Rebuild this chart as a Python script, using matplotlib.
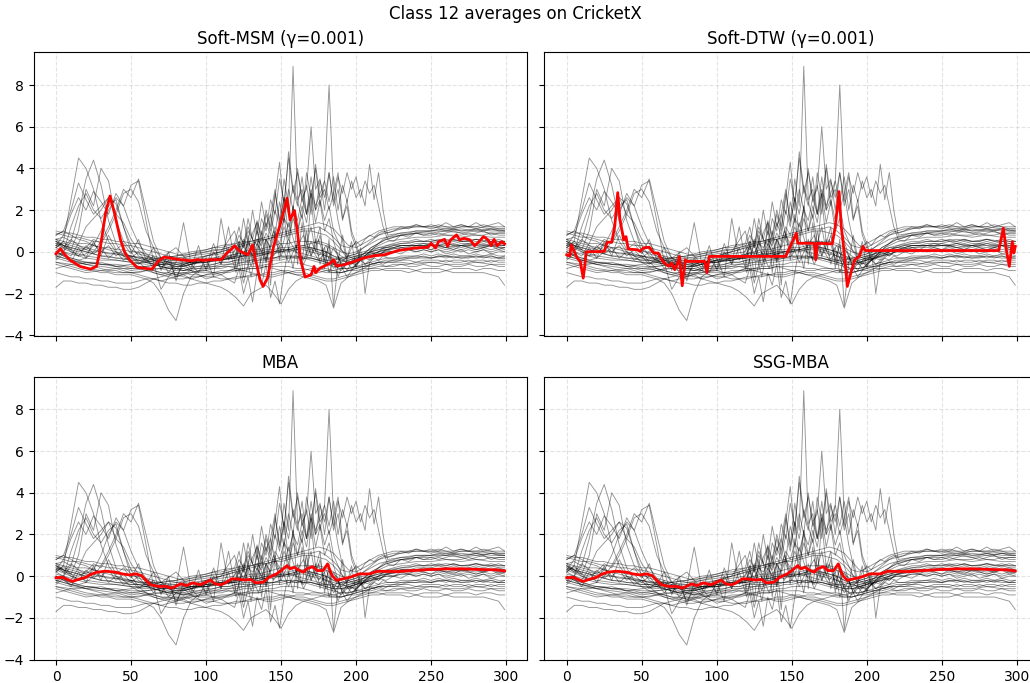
import numpy as np
from matplotlib import pyplot as plt

# time index for the smooth background series (every 5 steps + last point)
t_coarse = list(range(0, 300, 5)) + [299]
# finer index for the series with bursts in the 120-220 region
t_burst = list(range(0, 120, 10)) + list(range(119, 224, 3)) + list(range(230, 300, 10)) + [299]

# class 12 training series (coarse)
a1 = [0.9, 0.8, 0.7, 0.7, 0.6, 0.5, 0.5, 0.4, 0.4, 0.3,
      0.3, 0.2, 0.1, 0.0, -0.1, -0.2, -0.3, -0.3, -0.2, -0.1,
      0.0, 0.1, 0.1, 0.2, 0.3, 0.4, 0.5, 0.6, 0.6, 0.7,
      0.8, 0.9, 1.0, 1.1, 1.1, 1.2, 1.0, 0.7, 0.3, 0.2,
      0.4, 0.6, 0.8, 1.0, 1.1, 1.2, 1.2, 1.2, 1.3, 1.2,
      1.2, 1.3, 1.2, 1.2, 1.3, 1.2, 1.2, 1.3, 1.2, 1.2, 1.2]
a2 = [0.6, 0.7, 0.5, 0.4, 0.4, 0.3, 0.2, 0.2, 0.1, 0.1,
      0.0, 0.0, -0.1, -0.2, -0.3, -0.4, -0.4, -0.5, -0.4, -0.3,
      -0.2, -0.1, 0.0, 0.1, 0.2, 0.3, 0.4, 0.5, 0.6, 0.7,
      0.7, 0.8, 0.9, 1.0, 1.0, 0.9, 0.8, 0.5, 0.1, -0.2,
      -0.1, 0.2, 0.5, 0.8, 1.0, 1.1, 1.1, 1.2, 1.2, 1.2,
      1.1, 1.2, 1.2, 1.1, 1.2, 1.2, 1.1, 1.2, 1.2, 1.1, 1.1]
a3 = [1.0, 0.9, 0.9, 0.8, 0.7, 0.7, 0.6, 0.6, 0.5, 0.5,
      0.4, 0.4, 0.3, 0.2, 0.1, 0.0, -0.1, -0.2, -0.1, 0.0,
      0.1, 0.2, 0.2, 0.3, 0.4, 0.5, 0.5, 0.6, 0.7, 0.8,
      0.9, 1.0, 1.1, 1.2, 1.3, 1.4, 1.3, 1.1, 0.7, 0.3,
      0.2, 0.4, 0.6, 0.8, 0.9, 1.0, 1.2, 1.1, 1.3, 1.2,
      1.3, 1.2, 1.4, 1.2, 1.3, 1.2, 1.4, 1.2, 1.3, 1.4, 1.2]
a4 = [0.3, 0.4, 0.3, 0.2, 0.1, 0.0, 0.0, -0.1, -0.1, -0.2,
      -0.2, -0.3, -0.4, -0.5, -0.6, -0.6, -0.7, -0.7, -0.6, -0.5,
      -0.4, -0.3, -0.3, -0.2, -0.1, 0.0, 0.1, 0.1, 0.2, 0.3,
      0.4, 0.4, 0.5, 0.5, 0.5, 0.4, 0.3, 0.1, -0.2, -0.4,
      -0.3, -0.1, 0.2, 0.4, 0.6, 0.7, 0.8, 0.8, 0.9, 0.8,
      0.8, 0.9, 0.8, 0.8, 0.8, 0.9, 0.8, 0.8, 0.9, 0.8, 0.8]
a5 = [0.5, 0.3, 0.2, 0.1, 0.0, -0.1, -0.2, -0.2, -0.3, -0.3,
      -0.4, -0.4, -0.5, -0.6, -0.7, -0.8, -0.8, -0.9, -0.8, -0.7,
      -0.7, -0.6, -0.5, -0.5, -0.4, -0.3, -0.3, -0.2, -0.1, 0.0,
      0.0, 0.1, 0.1, 0.2, 0.2, 0.1, 0.0, -0.2, -0.4, -0.5,
      -0.4, -0.2, 0.0, 0.2, 0.3, 0.4, 0.5, 0.5, 0.6, 0.5,
      0.6, 0.5, 0.5, 0.6, 0.5, 0.5, 0.6, 0.5, 0.5, 0.6, 0.5]
a6 = [0.8, 1.0, 0.8, 0.6, 0.5, 0.3, 0.2, 0.1, 0.0, -0.1,
      -0.2, -0.3, -0.3, -0.4, -0.5, -0.5, -0.6, -0.6, -0.5, -0.5,
      -0.4, -0.4, -0.3, -0.3, -0.2, -0.2, -0.1, -0.1, 0.0, 0.0,
      0.1, 0.1, 0.2, 0.2, 0.1, 0.0, -0.2, -0.4, -0.6, -0.6,
      -0.5, -0.3, -0.1, 0.0, 0.1, 0.2, 0.3, 0.3, 0.3, 0.4,
      0.3, 0.3, 0.4, 0.3, 0.3, 0.4, 0.3, 0.3, 0.4, 0.3, 0.3]
b1 = [0.2, 0.5, 2.5, 4.5, 4.0, 3.0, 1.5, 0.5, 0.0, -0.2,
      -0.3, -0.4, -0.5, -0.6, -0.7, -0.8, -0.9, -0.9, -0.8, -0.8,
      -0.7, -0.7, -0.6, -0.6, -0.5, -0.5, -0.4, -0.4, -0.3, -0.3,
      -0.2, -0.3, -0.2, -0.3, -0.4, -0.5, -0.6, -0.7, -0.8, -0.8,
      -0.7, -0.6, -0.5, -0.4, -0.3, -0.3, -0.2, -0.2, -0.2, -0.1,
      -0.2, -0.1, -0.2, -0.1, -0.2, -0.2, -0.1, -0.2, -0.1, -0.2, -0.2]
b2 = [-0.2, 0.0, 0.5, 1.8, 3.5, 4.4, 3.2, 1.5, 0.4, -0.2,
      -0.5, -0.7, -0.8, -0.9, -1.0, -1.0, -1.1, -1.0, -1.0, -0.9,
      -0.9, -0.8, -0.8, -0.7, -0.7, -0.6, -0.6, -0.5, -0.5, -0.4,
      -0.4, -0.3, -0.3, -0.2, -0.3, -0.4, -0.5, -0.6, -0.6, -0.5,
      -0.4, -0.3, -0.2, -0.1, 0.0, 0.0, 0.1, 0.1, 0.1, 0.2,
      0.1, 0.2, 0.1, 0.2, 0.1, 0.2, 0.1, 0.2, 0.1, 0.2, 0.1]
b3 = [0.4, 0.2, 0.1, 1.0, 3.0, 2.2, 4.0, 3.4, 1.5, 0.5,
      0.1, -0.1, -0.2, -0.3, -0.4, -0.5, -0.5, -0.6, -0.5, -0.5,
      -0.4, -0.4, -0.3, -0.3, -0.2, -0.2, -0.1, -0.1, 0.0, 0.0,
      0.1, 0.1, 0.0, -0.1, -0.2, -0.3, -0.4, -0.5, -0.5, -0.4,
      -0.3, -0.2, -0.1, 0.0, 0.1, 0.2, 0.3, 0.3, 0.4, 0.4,
      0.4, 0.5, 0.4, 0.5, 0.4, 0.4, 0.5, 0.4, 0.5, 0.4, 0.4]
b4 = [0.0, -0.2, -0.3, -0.4, -0.3, 0.0, 0.5, 1.2, 2.0, 3.0,
      2.6, 3.5, 2.0, 0.5, -0.3, -0.6, -0.8, -0.9, -0.9, -1.0,
      -1.0, -1.0, -0.9, -0.9, -0.8, -0.8, -0.7, -0.7, -0.6, -0.6,
      -0.5, -0.5, -0.5, -0.6, -0.7, -0.8, -0.9, -1.0, -1.0, -0.9,
      -0.8, -0.7, -0.6, -0.5, -0.5, -0.4, -0.4, -0.3, -0.3, -0.3,
      -0.3, -0.2, -0.3, -0.2, -0.3, -0.3, -0.2, -0.3, -0.2, -0.3, -0.3]
b5 = [0.6, 0.3, 0.0, -0.2, -0.1, 0.3, 1.0, 2.0, 2.6, 2.2,
      3.2, 3.4, 1.5, -0.5, -1.8, -1.2, -0.8, -0.6, -0.5, -0.4,
      -0.3, -0.3, -0.2, -0.2, -0.1, -0.1, 0.0, 0.0, 0.1, 0.1,
      0.2, 0.2, 0.3, 0.3, 0.2, 0.1, 0.0, -0.2, -0.3, -0.3,
      -0.2, -0.1, 0.0, 0.1, 0.2, 0.2, 0.3, 0.3, 0.3, 0.3,
      0.3, 0.3, 0.2, 0.3, 0.2, 0.3, 0.3, 0.2, 0.3, 0.2, 0.2]
b6 = [-0.3, 0.0, 1.2, 2.2, 2.8, 2.0, 1.6, 2.2, 2.5, 1.2,
      0.0, -0.5, -0.8, -1.0, -1.1, -1.2, -1.3, -1.3, -1.2, -1.2,
      -1.1, -1.1, -1.0, -1.0, -0.9, -0.9, -0.8, -0.8, -0.7, -0.7,
      -0.7, -0.7, -0.8, -0.8, -0.9, -0.9, -1.0, -1.0, -1.0, -0.9,
      -0.9, -0.8, -0.8, -0.7, -0.7, -0.6, -0.6, -0.6, -0.5, -0.5,
      -0.5, -0.5, -0.4, -0.5, -0.5, -0.4, -0.5, -0.5, -0.4, -0.5, -0.5]
b7 = [0.8, 1.0, 2.0, 3.3, 2.5, 1.8, 2.2, 2.6, 1.8, 1.4,
      0.6, 0.1, -0.2, -0.4, -0.5, -0.6, -0.7, -0.7, -0.6, -0.5,
      -0.5, -0.4, -0.4, -0.3, -0.3, -0.2, -0.2, -0.1, -0.1, 0.0,
      0.0, 0.1, 0.2, 0.3, 0.4, 0.5, 0.4, 0.2, 0.0, -0.1,
      0.0, 0.2, 0.4, 0.6, 0.7, 0.8, 0.9, 0.9, 1.0, 1.0,
      1.0, 1.1, 1.0, 1.1, 1.0, 1.0, 1.1, 1.0, 1.1, 1.0, 1.0]
b8 = [0.2, 0.0, -0.2, 0.4, 1.2, 1.6, 2.0, 2.6, 2.3, 1.2,
      0.3, -0.2, -0.4, -0.6, -0.7, -0.8, -0.8, -0.8, -0.7, -0.7,
      -0.6, -0.6, -0.5, -0.5, -0.4, -0.4, -0.4, -0.3, -0.3, -0.3,
      -0.2, -0.2, -0.3, -0.3, -0.3, -0.4, -0.4, -0.4, -0.3, -0.2,
      -0.1, 0.0, 0.1, 0.2, 0.2, 0.3, 0.3, 0.3, 0.3, 0.3,
      0.4, 0.3, 0.3, 0.4, 0.3, 0.3, 0.4, 0.3, 0.3, 0.4, 0.3]
b9 = [0.3, 0.8, 1.8, 2.6, 2.0, 2.9, 2.4, 1.8, 2.8, 2.2,
      1.2, 0.4, -0.1, -0.4, -0.6, -0.7, -0.8, -0.8, -0.9, -0.8,
      -0.8, -0.7, -0.7, -0.6, -0.6, -0.5, -0.5, -0.4, -0.4, -0.3,
      -0.3, -0.2, -0.2, -0.3, -0.3, -0.4, -0.5, -0.6, -0.6, -0.5,
      -0.4, -0.3, -0.2, -0.1, 0.0, 0.0, 0.1, 0.1, 0.0, 0.1,
      0.0, 0.1, 0.0, 0.1, 0.0, 0.1, 0.0, 0.1, 0.0, 0.1, 0.0]
b10 = [0.5, 0.3, 0.1, 0.0, 0.2, 0.6, 0.4, 1.0, 1.8, 2.8,
       3.0, 2.4, 1.0, 0.2, -0.3, -0.5, -0.6, -0.7, -0.6, -0.5,
       -0.5, -0.4, -0.4, -0.3, -0.3, -0.2, -0.2, -0.2, -0.1, -0.1,
       0.0, 0.0, 0.1, 0.1, 0.0, -0.1, -0.2, -0.3, -0.4, -0.3,
       -0.2, -0.1, 0.0, 0.1, 0.2, 0.3, 0.4, 0.4, 0.5, 0.5,
       0.5, 0.6, 0.5, 0.6, 0.5, 0.5, 0.6, 0.5, 0.6, 0.5, 0.5]
d1 = [-1.7, -1.4, -1.4, -1.5, -1.5, -1.6, -1.6, -1.7, -1.7, -1.8,
      -1.8, -1.7, -1.5, -1.3, -1.2, -1.1, -1.0, -1.0, -1.1, -1.1,
      -1.2, -1.2, -1.3, -1.3, -1.2, -1.2, -1.1, -1.1, -1.0, -1.0,
      -0.9, -0.9, -1.0, -1.0, -1.1, -1.2, -1.3, -1.3, -1.2, -1.1,
      -1.0, -0.9, -0.8, -0.8, -0.9, -0.9, -0.9, -1.0, -0.9, -1.0,
      -1.0, -1.0, -0.9, -1.0, -1.0, -1.0, -1.0, -1.0, -1.1, -1.2, -1.6]
d2 = [-1.0, -1.1, -1.2, -1.2, -1.3, -1.3, -1.4, -1.4, -1.5, -1.5,
      -1.5, -1.4, -1.3, -1.3, -1.4, -1.5, -1.5, -1.6, -1.6, -1.5,
      -1.5, -1.4, -1.4, -1.3, -1.3, -1.2, -1.2, -1.1, -1.1, -1.1,
      -1.0, -1.0, -1.1, -1.1, -1.2, -1.3, -1.4, -1.4, -1.3, -1.2,
      -1.1, -1.0, -0.9, -0.9, -0.8, -0.8, -0.8, -0.8, -0.9, -0.8,
      -0.8, -0.8, -0.9, -0.8, -0.8, -0.8, -0.9, -0.8, -0.8, -0.9, -0.9]
d3 = [-0.5, -0.6, -0.7, -0.8, -0.9, -0.9, -1.0, -1.0, -1.1, -1.1,
      -1.1, -1.2, -1.3, -1.5, -2.0, -2.8, -3.3, -2.0, -1.2, -0.9,
      -0.8, -0.8, -0.7, -0.7, -0.8, -0.9, -1.0, -1.1, -1.2, -1.2,
      -1.1, -1.0, -0.9, -0.9, -0.8, -0.8, -0.8, -0.9, -1.0, -0.9,
      -0.8, -0.7, -0.6, -0.5, -0.5, -0.5, -0.4, -0.4, -0.5, -0.4,
      -0.4, -0.4, -0.5, -0.4, -0.4, -0.5, -0.4, -0.4, -0.5, -0.4, -0.4]
d4 = [0.0, -0.2, -0.4, -0.5, -0.6, -0.7, -0.8, -0.9, -0.9, -1.0,
      -1.0, -1.0, -0.9, -0.8, -0.8, -0.9, -1.0, -1.1, -1.3, -1.4,
      -1.5, -1.6, -1.7, -1.9, -2.2, -2.6, -2.0, -1.8, -1.6, -2.0,
      -2.5, -1.8, -1.4, -1.2, -1.1, -1.0, -0.9, -0.9, -0.8, -0.8,
      -0.7, -0.7, -0.7, -0.6, -0.7, -0.7, -0.6, -0.7, -0.7, -0.6,
      -0.7, -0.7, -0.6, -0.7, -0.7, -0.6, -0.7, -0.7, -0.6, -0.7, -0.7]
d5 = [-0.8, -0.7, -0.6, -0.6, -0.5, -0.5, -0.6, -0.6, -0.7, -0.7,
      -0.8, -0.8, -0.9, -1.0, -1.1, -1.0, -1.1, -1.2, -1.3, -1.2,
      -1.1, -1.0, -1.0, -0.9, -0.9, -0.8, -0.8, -0.8, -0.7, -0.8,
      -0.9, -1.0, -1.1, -1.2, -1.3, -1.4, -1.6, -2.7, -1.5, -1.2,
      -1.0, -0.8, -0.6, -0.5, -0.4, -0.4, -0.3, -0.3, -0.3, -0.2,
      -0.3, -0.2, -0.2, -0.3, -0.2, -0.2, -0.3, -0.2, -0.2, -0.3, -0.2]
e1 = [0.2, 0.5, 0.1, -0.2, 0.3, -0.1, 0.2, -0.3, 0.0, -0.4,
      -0.2, -0.6, -0.3, -0.8, -0.4, -1.0, -0.5, 1.4, -0.6, -1.0,
      -0.3, -1.2, 1.6, -0.4, 0.2, -1.5, 0.0, -0.8, 0.6, -0.2,
      0.4, -0.5, 0.3, -0.6, 0.2, -0.4, 0.0, -0.8, -0.3, -0.6,
      -0.2, -0.4, 0.0, -0.2, 0.1, 0.0, 0.2, 0.1, 0.3, 0.2,
      0.1, 0.3, 0.2, 0.1, 0.3, 0.2, 0.1, 0.2, 0.3, 0.1, 0.2]
e2 = [0.5, 0.2, 0.6, 0.3, 0.1, 0.4, 0.0, 0.3, -0.2, 0.1,
      -0.3, 0.0, -0.5, -0.2, -0.8, -0.4, -1.2, -0.6, -0.9, -0.3,
      -0.8, 0.4, -0.6, 0.2, -1.0, 0.5, -0.7, 0.3, -0.5, 0.8,
      -0.2, 0.6, 0.0, -0.4, 0.5, -0.2, 0.3, -0.6, -0.9, -0.5,
      -0.6, -0.3, -0.4, -0.1, -0.2, 0.0, -0.1, 0.1, 0.0, 0.1,
      0.0, 0.1, -0.1, 0.0, 0.1, -0.1, 0.0, 0.1, -0.1, 0.0, 0.0]
e3 = [-0.4, -0.1, -0.5, 0.2, -0.3, 0.5, -0.2, 0.8, 0.1, 0.4,
      -0.1, 0.6, -0.4, 0.2, -0.9, 0.0, -1.4, -0.3, -0.8, 0.3,
      -0.9, 0.0, -0.6, 1.2, -0.8, 0.4, -1.2, 0.6, -0.4, 1.0,
      0.0, 1.4, 0.2, 0.8, -0.2, 0.6, -0.6, 0.2, -0.5, -0.2,
      -0.4, -0.1, 0.2, 0.4, 0.6, 0.5, 0.8, 0.7, 0.9, 0.8,
      0.9, 0.8, 0.9, 1.0, 0.9, 0.8, 0.9, 1.0, 0.8, 0.9, 0.9]

c1 = [0.3, 0.0, -0.2, -0.3, -0.4, -0.5, -0.6, -0.5, -0.4, -0.3, -0.2, -0.1,
      0.0, 0.5, 0.2, 1.0, 0.6, 1.5, 0.8, 2.0, 1.2, 2.8, 1.5, 3.5, 2.2, 8.9, 2.5, 3.0, 1.8, 3.6,
      2.0, 2.5, 1.5, 2.2, 1.0, 0.5, 0.0, -0.3, 0.2, 0.5, 0.3, 0.6, 0.8, 0.7, 0.9, 1.0, 0.9,
      1.1, 1.2, 1.2, 1.1, 1.2, 1.2, 1.1, 1.1]
c2 = [-0.5, -0.6, -0.8, -0.9, -1.0, -1.0, -0.9, -0.8, -0.7, -0.6, -0.5, -0.4,
      -0.3, 0.2, -0.2, 0.5, 0.0, 1.0, 0.4, 1.4, 0.8, 2.0, 1.2, 2.6, 1.8, 3.2, 2.4, 1.6, 3.8, 2.6,
      4.0, 2.2, 3.4, 8.0, 2.8, 1.5, 0.5, -0.5, -0.8, -0.6, -0.4, -0.3, -0.2, -0.1, 0.0, 0.1, 0.1,
      0.2, 0.2, 0.3, 0.2, 0.3, 0.2, 0.3, 0.2]
c3 = [0.1, -0.1, -0.3, -0.4, -0.4, -0.5, -0.5, -0.4, -0.3, -0.2, -0.1, 0.0,
      0.2, 0.8, 0.4, 1.2, 0.6, 0.3, 1.6, 1.0, 2.5, 1.8, 3.5, 2.4, 4.5, 2.8, 3.8, 2.6, 3.0, 6.0,
      3.0, 3.5, 2.0, 3.8, 2.2, 3.0, 1.5, 2.5, 1.0, 0.4, -0.3, -0.6, -0.4, -0.2, 0.0, 0.2, 0.3,
      0.4, 0.5, 0.5, 0.6, 0.5, 0.6, 0.5, 0.5]
c4 = [-0.2, -0.4, -0.5, -0.6, -0.6, -0.7, -0.7, -0.6, -0.5, -0.5, -0.4, -0.3,
      -0.2, 0.3, -0.1, 0.4, 0.2, 0.6, 0.3, 0.9, 0.5, 1.2, 0.8, 1.6, 1.2, 2.0, 1.5, 2.6, 1.8, 3.0,
      2.2, 2.8, 3.4, 2.4, 3.6, 2.0, 3.2, 2.4, 3.4, 2.6, 3.0, 2.2, 4.2, 2.5, 3.8, 2.0, 0.8,
      0.9, 1.0, 1.0, 1.1, 1.0, 1.1, 1.0, 1.0]
c5 = [0.6, 0.4, 0.2, 0.0, -0.1, -0.2, -0.3, -0.3, -0.2, -0.1, 0.0, 0.1,
      0.3, 0.1, 0.6, 0.2, 0.9, 1.4, 0.6, 1.8, 1.0, 2.6, 4.3, 2.0, 4.8, 3.0, 2.2, 3.6, 1.8, 2.8,
      1.4, 2.4, 1.0, 1.6, 0.5, -0.2, -0.8, -1.2, -0.9, -0.6, -0.4, -0.2, 0.0, 0.2, 0.3, 0.4, 0.5,
      0.6, 0.7, 0.7, 0.8, 0.7, 0.8, 0.7, 0.7]
c6 = [-0.6, -0.8, -1.0, -0.9, -0.8, -1.0, -1.2, -1.4, -1.2, -1.0, -0.9, -1.1,
      -0.8, 0.5, -1.2, 0.8, -0.5, 1.4, -1.0, 0.6, -1.6, 1.0, -0.4, 1.8, 0.0, 2.2, -0.6, 1.4, -0.2, 2.6,
      0.4, 1.2, -0.8, 0.6, -2.6, -0.5, 0.8, -0.3, 0.5, -0.8, 0.2, -2.0, -0.5, -0.3, -0.4, -0.2, -0.3,
      -0.3, -0.2, -0.3, -0.2, -0.3, -0.2, -0.3, -0.3]
c7 = [0.0, -0.3, -0.5, -0.6, -0.7, -0.6, -0.5, -0.3, -0.2, 0.0, 0.1, 0.3,
      0.4, 1.2, 0.2, 1.6, 0.6, -0.2, 1.0, -0.5, 1.8, 0.8, 2.4, 1.4, 3.0, 2.0, 4.0, 2.4, 3.2, 1.8,
      4.2, 2.6, 3.0, 2.0, 2.8, 3.8, 1.6, 2.2, 0.8, 0.2, -0.4, -0.2, 0.0, 0.2, 0.4, 0.6, 0.7,
      0.8, 0.9, 1.0, 1.0, 1.1, 1.0, 1.1, 1.0]
c8 = [-0.3, -0.5, -0.6, -0.7, -0.8, -0.8, -0.7, -0.6, -0.6, -0.5, -0.5, -0.4,
      -0.3, 0.0, -0.4, 0.2, -0.2, 0.4, 0.0, 0.6, 0.2, 0.8, 0.4, 1.2, 0.6, 1.6, 1.0, 2.2, 1.4, 2.8,
      2.0, 3.4, 2.6, 3.8, 2.4, 3.6, 2.8, 3.8, 3.0, 3.6, 2.6, 3.4, 2.8, 3.2, 2.2, 1.2, 0.6,
      0.8, 0.9, 0.9, 1.0, 0.9, 1.0, 0.9, 0.9]
c9 = [0.4, 0.2, 0.0, -0.2, -0.3, -0.4, -0.4, -0.3, 0.2, -0.6, -0.2, 0.0,
      1.0, 0.2, 1.6, 0.4, 2.0, 0.8, 2.4, 1.2, 1.8, 3.0, 1.4, 2.6, 0.8, 2.2, 1.0, 1.8, 0.4, 1.2,
      0.0, 0.8, -0.4, 0.3, -0.6, -0.2, -0.8, -0.4, -0.6, -0.3, -0.4, -0.2, -0.3, -0.1, -0.2, 0.0, 0.1,
      0.2, 0.3, 0.3, 0.4, 0.3, 0.4, 0.3, 0.3]
c10 = [-0.2, -0.4, -0.6, -0.5, -0.7, -0.9, -0.8, -1.0, -1.2, -0.9, -1.3, -1.1,
       -1.5, -0.8, -2.0, -1.2, -2.4, -1.0, -1.6, -0.6, -2.2, -1.4, -2.5, -1.0, 0.2, -0.8, 0.6, -0.4, 1.0, -0.2,
       0.6, -0.6, 0.2, -1.0, -0.4, -1.2, -0.6, -0.9, -0.5, -0.7, -0.4, -0.6, -0.5, -0.6, -0.5, -0.6, -0.5,
       -0.5, -0.6, -0.5, -0.6, -0.6, -0.5, -0.6, -0.6]

coarse_series = [a1, a2, a3, a4, a5, a6, b1, b2, b3, b4, b5, b6, b7, b8, b9, b10,
                 d1, d2, d3, d4, d5, e1, e2, e3]
burst_series = [c1, c2, c3, c4, c5, c6, c7, c8, c9, c10]

# averages produced by each method
msm_x = [0, 3, 5, 9, 16, 23, 27, 29, 33, 36, 39, 43, 46, 49, 54, 58, 64, 68, 72, 76,
         83, 90, 94, 98, 103, 110, 114, 117, 119, 122, 125, 128, 131, 133, 136, 138, 141, 145, 149, 152,
         154, 156, 159, 161, 163, 166, 170, 172, 173, 176, 183, 185, 187, 192, 199, 205, 212, 219, 228, 239,
         248, 250, 253, 255, 259, 261, 263, 267, 269, 272, 276, 279, 282, 285, 288, 290, 292, 294, 297, 299]
msm_y = [-0.1, 0.15, -0.06, -0.38, -0.7, -0.83, -0.7, -0.06, 1.85, 2.68,
         1.85, 0.57, -0.06, -0.38, -0.75, -0.78, -0.83, -0.46, -0.25, -0.3,
         -0.38, -0.43, -0.38, -0.41, -0.38, -0.38, -0.06, 0.13, 0.29, 0.06,
         -0.06, -0.14, 0.33, -0.38, -1.34, -1.66, -1.26, 0.25, 1.21, 2.0,
         2.57, 1.53, 1.98, 0.9, -0.38, -1.21, -1.1, -0.7, -1.0, -0.78,
         -0.54, -0.38, -0.68, -0.62, -0.46, -0.3, -0.19, -0.14, 0.06, 0.18,
         0.22, 0.41, 0.18, 0.49, 0.6, 0.26, 0.57, 0.81, 0.57, 0.65,
         0.57, 0.29, 0.49, 0.73, 0.57, 0.29, 0.6, 0.29, 0.49, 0.38]

dtw_x = [0, 2, 3, 4, 7, 9, 11, 12, 13, 25, 27, 30, 32, 34, 35.5, 38, 39.5, 41, 47, 49,
         51, 55, 58, 61, 64, 68, 70, 72, 74, 75, 77, 79, 80, 92, 93.5, 95, 146, 149, 151, 153,
         154, 165, 166, 167, 177, 179, 181.5, 183, 185, 187, 190, 192, 195, 197.5, 199, 288, 291, 293, 295, 297,
         298, 299]
dtw_y = [-0.14, -0.2, 0.33, 0.18, -0.3, -0.46, -1.26, -0.7, 0.0, 0.02,
         0.46, 0.46, 1.21, 2.84, 1.53, 0.57, 0.73, 0.13, 0.1, 0.02,
         0.18, 0.22, -0.06, -0.06, -0.46, -0.7, -0.54, -0.86, -0.54, -0.22,
         -1.63, -0.38, -0.46, -0.46, -1.0, -0.22, -0.22, 0.26, 0.57, 0.89,
         0.41, 0.41, -0.38, 0.41, 0.38, 1.21, 2.89, 1.21, -0.06, -1.66,
         -0.86, -0.38, -0.22, 0.26, 0.06, 0.06, 1.13, 0.1, -0.7, 0.49,
         -0.06, 0.26]

mba_x = [0, 4, 9, 11, 16, 20, 23, 27, 33, 40, 44, 49, 53, 57, 59, 63, 68, 73, 77, 80,
         83, 87, 91, 96, 100, 103, 106, 110, 113, 117, 120, 125, 130, 133, 138, 142, 147, 151, 154, 156,
         159, 161, 165, 167, 171, 174, 178, 181, 184, 187, 191, 196, 202, 209, 214, 227, 238, 249, 260, 271,
         283, 294, 299]
mba_y = [-0.08, -0.05, -0.2, -0.25, -0.13, -0.05, 0.08, 0.19, 0.24, 0.19,
         0.11, 0.06, 0.11, 0.03, -0.13, -0.41, -0.49, -0.49, -0.57, -0.48,
         -0.37, -0.45, -0.32, -0.41, -0.29, -0.18, -0.37, -0.41, -0.32, -0.13,
         -0.13, -0.18, -0.16, -0.32, -0.29, -0.05, 0.11, 0.32, 0.51, 0.35,
         0.43, 0.32, 0.19, 0.35, 0.46, 0.27, 0.27, 0.59, 0.03, -0.2,
         -0.13, -0.05, 0.11, 0.11, 0.24, 0.22, 0.27, 0.32, 0.35, 0.35,
         0.32, 0.3, 0.25]
# SSG-MBA ends up on the same barycenter as MBA here
ssg_x = list(mba_x)
ssg_y = list(mba_y)

titles = ['Soft-MSM (γ=0.001)', 'Soft-DTW (γ=0.001)', 'MBA', 'SSG-MBA']
averages = [(msm_x, msm_y), (dtw_x, dtw_y), (mba_x, mba_y), (ssg_x, ssg_y)]


def main():
    fig, axes = plt.subplots(2, 2, figsize=(10.3, 6.83), dpi=100, sharex=True, sharey=True)
    for ax, title, (ax_x, ax_y) in zip(axes.flat, titles, averages):
        for s in coarse_series:
            ax.plot(t_coarse, s, color='black', alpha=0.42, linewidth=0.65)
        for s in burst_series:
            ax.plot(t_burst, s, color='black', alpha=0.42, linewidth=0.65)
        ax.plot(ax_x, ax_y, color='red', linewidth=2)
        ax.set_title(title)
        ax.grid(True, linestyle='--', alpha=0.35)

    axes[0, 0].set_xlim(-14.95, 313.95)
    axes[0, 0].set_ylim(-4.02, 9.57)
    axes[0, 0].set_yticks([-4, -2, 0, 2, 4, 6, 8])
    axes[0, 0].set_xticks([0, 50, 100, 150, 200, 250, 300])

    fig.suptitle('Class 12 averages on CricketX', y=0.993)
    # the right column runs slightly past the canvas edge in the original
    plt.subplots_adjust(left=0.0326, right=1.0075, top=0.9234, bottom=0.0337,
                        wspace=0.035, hspace=0.145)
    plt.savefig('out.png', dpi=100)


if __name__ == "__main__":
    main()
